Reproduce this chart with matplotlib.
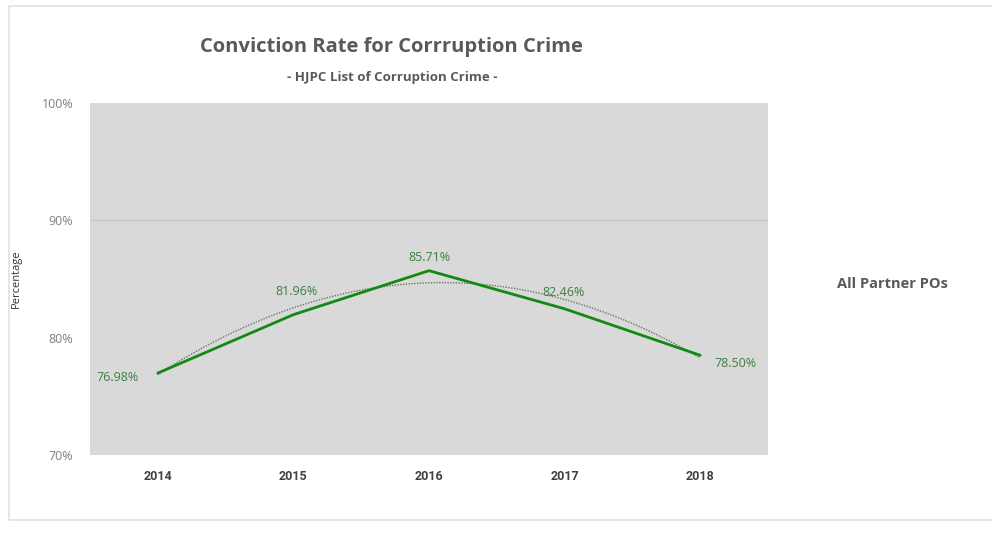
import matplotlib
matplotlib.use("Agg")
import matplotlib.pyplot as plt
import numpy as np
from matplotlib.patches import Rectangle
from matplotlib.ticker import PercentFormatter

# ── Podaci ──────────────────────────────────────────────────
godine = ['2014', '2015', '2016', '2017', '2018']
stopa = [76.98, 81.96, 85.71, 82.46, 78.50]
y_ticks = [70, 80, 90, 100]
linija_mreze = 90

naslov = 'Conviction Rate for Corrruption Crime'
podnaslov = '- HJPC List of Corruption Crime -'
serija = 'All Partner POs'

# ── Stil ────────────────────────────────────────────────────
ZELENA = '#128a12'
TEKST_ZELENO = '#3d7f45'
SIVA_POZ = '#d9d9d9'
FONT = ['Open Sans', 'DejaVu Sans']

fig = plt.figure(figsize=(9.92, 5.34), dpi=100)
fig.patch.set_facecolor('white')

# tanki okvir oko cele slike
fig.patches.append(Rectangle((9 / 992, 1 - 520 / 534), 1.2, 514 / 534,
                             transform=fig.transFigure, fill=False,
                             edgecolor='#e2e2e2', linewidth=1.2))

ax = fig.add_axes([90 / 992, 1 - 455 / 534, 678 / 992, 352 / 534])
ax.set_facecolor(SIVA_POZ)
for s in ax.spines.values():
    s.set_visible(False)

x = np.arange(len(godine))
ax.plot(x, stopa, color=ZELENA, linewidth=2.0, solid_capstyle='round', zorder=3)

# polinomski trend (red 2)
koef = np.polyfit(x, stopa, 2)
xt = np.linspace(0, len(godine) - 1, 200)
ax.plot(xt, np.polyval(koef, xt), color='#5f7f62', linewidth=1.0,
        linestyle=(0, (1, 1)), zorder=2)

# oznake vrednosti
pomeraji = [(-40, -4), (3, 23), (0, 13), (-1, 16), (35, -8)]
for xi, v, (dx, dy) in zip(x, stopa, pomeraji):
    ax.annotate(f'{v:.2f}%', (xi, v), xytext=(dx, dy), textcoords='offset pixels',
                ha='center', va='center', fontsize=9, color=TEKST_ZELENO,
                family=FONT, zorder=4)

ax.set_xlim(-0.5, len(godine) - 0.5)
ax.set_ylim(70, 100)
ax.set_yticks(y_ticks)
ax.yaxis.set_major_formatter(PercentFormatter(decimals=0))
ax.set_xticks(x)
ax.set_xticklabels(godine, fontsize=9, fontweight='bold', color='#404040',
                   family=['Roboto', 'DejaVu Sans'])
ax.tick_params(axis='both', length=0)
ax.tick_params(axis='x', pad=11)
ax.tick_params(axis='y', pad=12, labelsize=9, labelcolor='#808080')
for lbl in ax.get_yticklabels():
    lbl.set_family(FONT)

# samo jedna horizontalna linija mreze
ax.axhline(linija_mreze, color='#c8c8c8', linewidth=1.0, zorder=1)

ax.set_ylabel('Percentage', fontsize=8, color='#333333', family=FONT, labelpad=14)

fig.text(391 / 992, 1 - 47 / 534, naslov, ha='center', va='center',
         fontsize=14.5, fontweight='bold', color='#595959', family=FONT)
fig.text(392 / 992, 1 - 77 / 534, podnaslov, ha='center', va='center',
         fontsize=9.5, fontweight='bold', color='#595959', family=FONT)
fig.text(892 / 992, 1 - 284 / 534, serija, ha='center', va='center',
         fontsize=10.5, fontweight='bold', color='#595959', family=FONT)

plt.savefig('out.png', dpi=100)
plt.close()
